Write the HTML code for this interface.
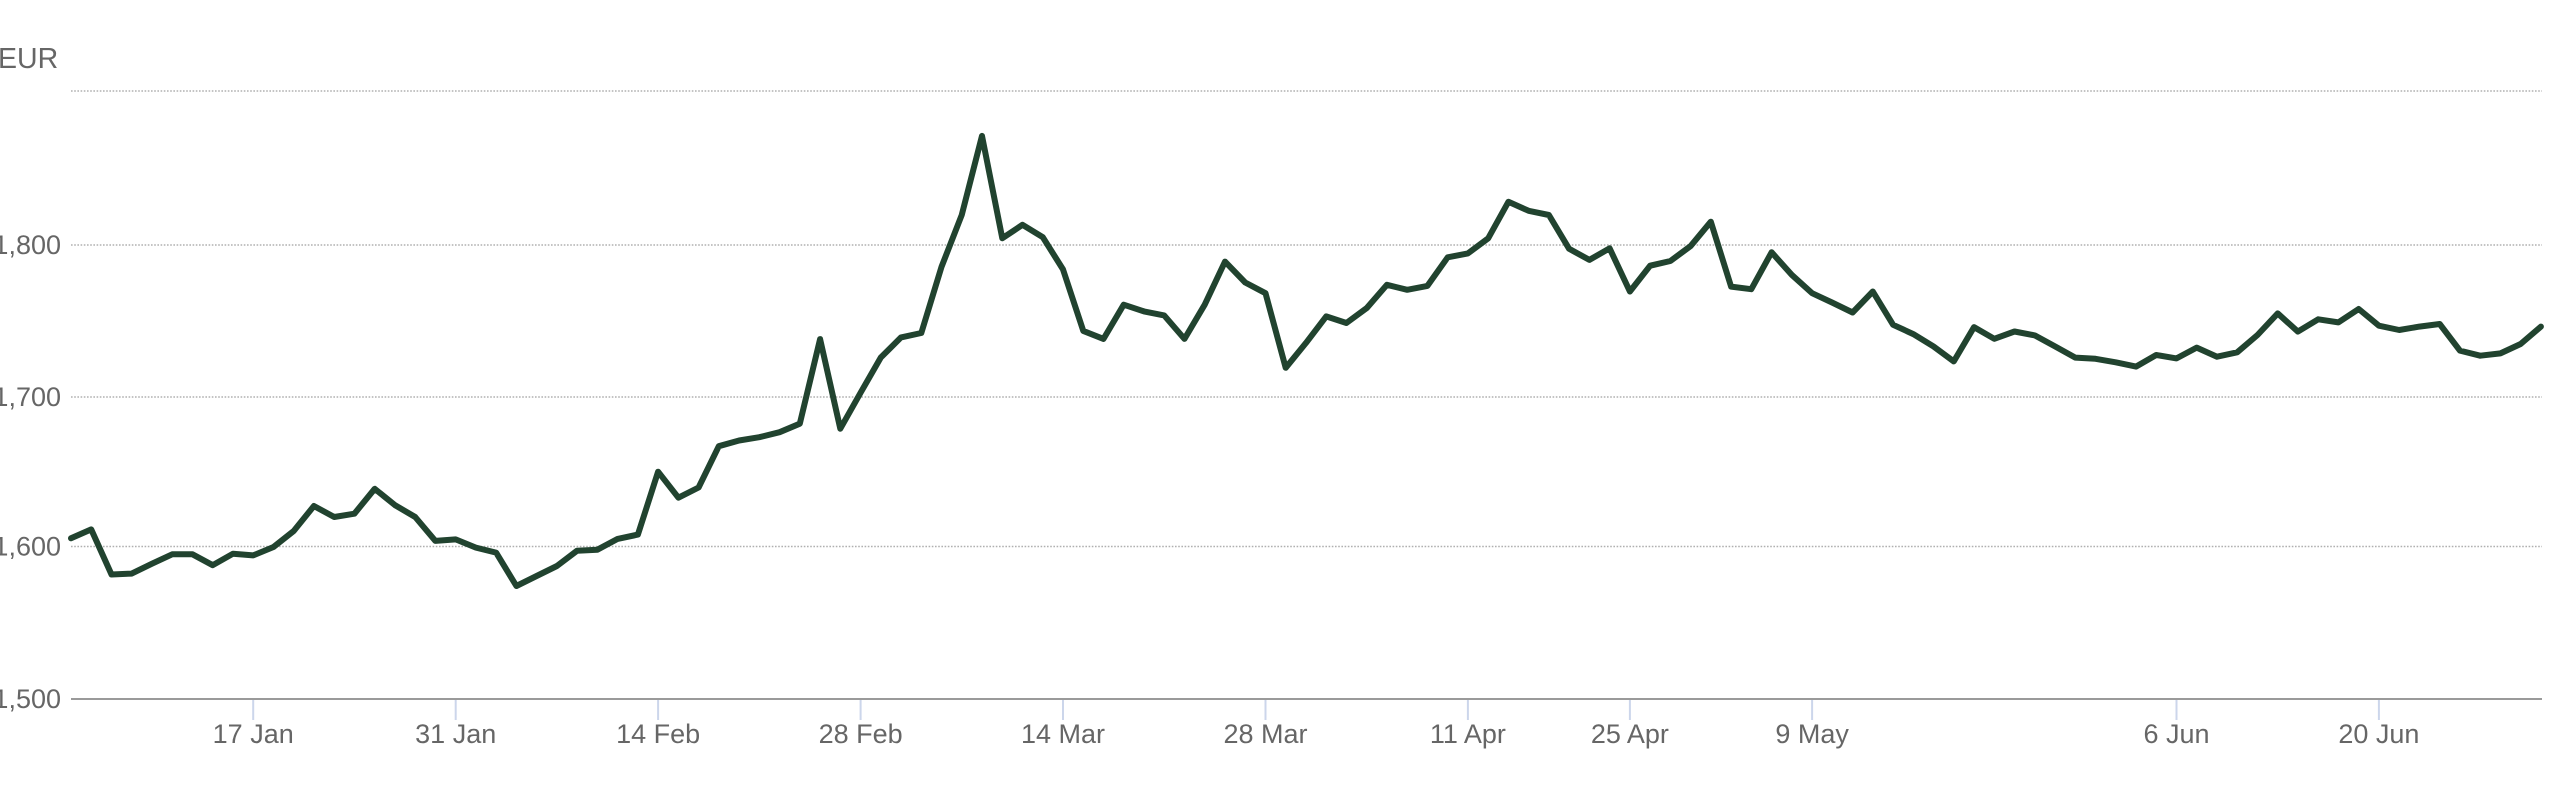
<!DOCTYPE html>
<html>
<head>
<meta charset="utf-8">
<style>
  html, body { margin: 0; padding: 0; background: #ffffff; }
  body { width: 2560px; height: 811px; overflow: hidden; }
  svg { display: block; }
  text { font-family: "Liberation Sans", Arial, sans-serif; fill: #666666; font-size: 27px; }
</style>
</head>
<body>
<svg width="2560" height="811" viewBox="0 0 2560 811" xmlns="http://www.w3.org/2000/svg">
  <rect x="0" y="0" width="2560" height="811" fill="#ffffff"/>

  <!-- gridlines -->
  <g stroke="#b0b0b0" stroke-width="1.6" stroke-dasharray="1.6,1.6" fill="none">
    <line x1="71" y1="91" x2="2542" y2="91"/>
    <line x1="71" y1="245" x2="2542" y2="245"/>
    <line x1="71" y1="397" x2="2542" y2="397"/>
    <line x1="71" y1="546.5" x2="2542" y2="546.5"/>
  </g>

  <!-- x axis line -->
  <line x1="71" y1="699" x2="2542" y2="699" stroke="#9a9a9a" stroke-width="2"/>

  <!-- ticks -->
  <g stroke="#ccd6eb" stroke-width="2">
    <line x1="253.2" y1="700" x2="253.2" y2="720"/>
    <line x1="455.7" y1="700" x2="455.7" y2="720"/>
    <line x1="658.1" y1="700" x2="658.1" y2="720"/>
    <line x1="860.6" y1="700" x2="860.6" y2="720"/>
    <line x1="1063" y1="700" x2="1063" y2="720"/>
    <line x1="1265.5" y1="700" x2="1265.5" y2="720"/>
    <line x1="1467.9" y1="700" x2="1467.9" y2="720"/>
    <line x1="1629.9" y1="700" x2="1629.9" y2="720"/>
    <line x1="1812.1" y1="700" x2="1812.1" y2="720"/>
    <line x1="2176.5" y1="700" x2="2176.5" y2="720"/>
    <line x1="2378.9" y1="700" x2="2378.9" y2="720"/>
  </g>

  <!-- y labels -->
  <text x="-2" y="68" text-anchor="start" style="font-size:28.5px">EUR</text>
  <text x="61" y="254" text-anchor="end">1,800</text>
  <text x="61" y="406" text-anchor="end">1,700</text>
  <text x="61" y="555.5" text-anchor="end">1,600</text>
  <text x="61" y="708" text-anchor="end">1,500</text>

  <!-- x labels -->
  <g text-anchor="middle">
    <text x="253.2" y="743">17 Jan</text>
    <text x="455.7" y="743">31 Jan</text>
    <text x="658.1" y="743">14 Feb</text>
    <text x="860.6" y="743">28 Feb</text>
    <text x="1063" y="743">14 Mar</text>
    <text x="1265.5" y="743">28 Mar</text>
    <text x="1467.9" y="743">11 Apr</text>
    <text x="1629.9" y="743">25 Apr</text>
    <text x="1812.1" y="743">9 May</text>
    <text x="2176.5" y="743">6 Jun</text>
    <text x="2378.9" y="743">20 Jun</text>
  </g>

  <!-- series -->
  <polyline fill="none" stroke="#21432f" stroke-width="6" stroke-linejoin="round" stroke-linecap="round"
    points="71,538.3 91.2,529.4 111.5,574.5 131.7,573.6 152,563.7 172.2,554.3 192.5,554.3 212.7,565.2 233,553.7 253.2,555.4 273.5,547 293.7,531 313.9,506 334.2,517 354.4,513.7 374.7,488.8 394.9,505.1 415.2,517 435.4,540.9 455.7,539.4 475.9,547.6 496.1,552.6 516.4,586 536.6,576 556.9,566 577.1,550.7 597.4,549.7 617.6,538.9 637.9,534.6 658.1,471.7 678.4,497.7 698.6,487.5 718.8,446.2 739.1,440.5 759.3,437.2 779.6,432.2 799.8,423.7 820.1,339.1 840.3,428.7 860.6,392.7 880.8,357.5 901,337.4 921.3,333 941.5,266.9 961.8,214.8 982,135.9 1002.3,238.3 1022.5,224.8 1042.8,237.2 1063,269.4 1083.3,330.9 1103.5,338.9 1123.7,304.7 1144,311.4 1164.2,315.4 1184.5,338.9 1204.7,304.7 1225,261.6 1245.2,282.5 1265.5,293.2 1285.7,367.8 1306,342.9 1326.2,316.4 1346.4,323 1366.7,308.1 1386.9,284.8 1407.2,289.8 1427.4,285.9 1447.7,257.3 1467.9,253.4 1488.2,238.3 1508.4,201.8 1528.6,210.8 1548.9,215 1569.1,248.8 1589.4,259.9 1609.6,248.3 1629.9,291.5 1650.1,265.7 1670.4,261 1690.6,246.1 1710.8,221.7 1731.1,286.6 1751.3,289.2 1771.6,252.3 1791.8,274.9 1812.1,293.2 1832.3,302.6 1852.6,312.5 1872.8,291.5 1893.1,324.8 1913.3,334.1 1933.5,346.4 1953.8,361.4 1974,327.1 1994.3,338.8 2014.5,331.5 2034.8,335.4 2055,346.4 2075.3,357.6 2095.5,358.8 2115.7,362.3 2136,366.6 2156.2,355 2176.5,358.4 2196.7,347.6 2217,356.7 2237.2,352.3 2257.5,335 2277.7,313.4 2297.9,331.6 2318.2,319.3 2338.4,322.4 2358.7,309 2378.9,325.7 2399.2,330 2419.4,326.6 2439.7,324 2459.9,350.6 2480.2,355.7 2500.4,353.4 2520.6,344 2540.9,326.6"/>
</svg>
</body>
</html>
